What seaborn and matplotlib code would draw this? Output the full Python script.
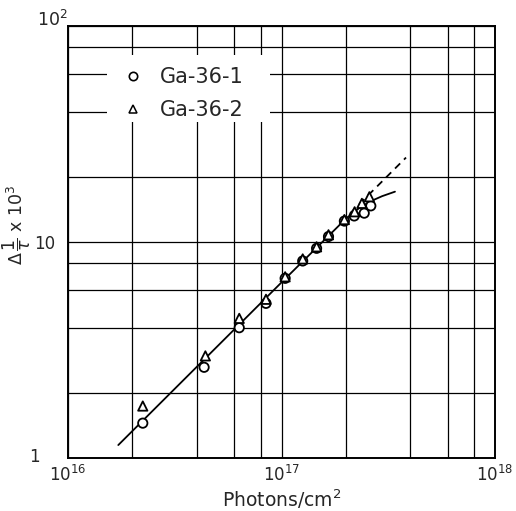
import numpy as np
import pandas as pd
import matplotlib
matplotlib.use("Agg")
import matplotlib.pyplot as plt
import seaborn as sns
from matplotlib.ticker import LogLocator, FixedLocator, NullFormatter
from matplotlib.lines import Line2D
from matplotlib.patches import Rectangle

# ---- data ----
photons_1 = [2.24e16, 4.34e16, 6.34e16, 8.46e16, 1.04e17, 1.257e17, 1.46e17,
             1.66e17, 1.97e17, 2.19e17, 2.44e17, 2.62e17]
rate_1 = [1.45, 2.63, 4.01, 5.20, 6.79, 8.17, 9.35, 10.6, 12.5, 13.2, 13.6, 14.7]

photons_2 = [2.24e16, 4.40e16, 6.34e16, 8.46e16, 1.04e17, 1.257e17, 1.46e17,
             1.66e17, 1.97e17, 2.20e17, 2.38e17, 2.58e17]
rate_2 = [1.74, 2.97, 4.43, 5.43, 6.9, 8.35, 9.5, 10.8, 12.7, 13.8, 15.1, 16.2]

fit_x = [1.72e16, 1.0e17, 2.0e17, 2.3e17, 2.6e17, 2.96e17, 3.4e17]
fit_y = [1.148, 6.5, 12.8, 14.3, 15.4, 16.3, 17.1]

ext_x = [2.1e17, 3.83e17]
ext_y = [13.6, 24.6]

series_names = ["Ga-36-1", "Ga-36-2"]
x_ticks = [1e16, 1e17, 1e18]
x_ticklabels = [r"$10^{16}$", r"$10^{17}$", r"$10^{18}$"]
y_ticks = [1, 10, 100]
y_ticklabels = ["", "10", ""]
y_bottom_label = "1"
y_top_label = r"$10^{2}$"

df = pd.concat([
    pd.DataFrame({"x": photons_1, "y": rate_1, "s": series_names[0]}),
    pd.DataFrame({"x": photons_2, "y": rate_2, "s": series_names[1]}),
])

sns.set_style("white")
plt.rcParams["font.family"] = ["DejaVu Sans"]
plt.rcParams["mathtext.fontset"] = "dejavusans"

fig = plt.figure(figsize=(5.16, 5.11), dpi=100)
ax = fig.add_axes([68/516, 1-458/511, (495-68)/516, (458-26)/511])
ax.set_xscale("log")
ax.set_yscale("log")
ax.set_xlim(1e16, 1e18)
ax.set_ylim(1, 100)

sns.lineplot(x=fit_x, y=fit_y, ax=ax, color="black", lw=1.3, zorder=3,
             legend=False, sort=False)
sns.lineplot(x=ext_x, y=ext_y, ax=ax, color="black", lw=1.3, zorder=3,
             legend=False, sort=False)
ax.lines[-1].set_linestyle((0, (4, 3)))

sns.scatterplot(data=df, x="x", y="y", hue="s", style="s",
                markers={series_names[0]: "o", series_names[1]: "^"},
                palette={series_names[0]: "black", series_names[1]: "black"},
                ax=ax, s=45, linewidth=1.3, zorder=4, legend=False)
for coll in ax.collections:
    coll.set_facecolor("white")
    coll.set_edgecolor("black")

# grid at 2,4,6,8 and decades
ax.xaxis.set_major_locator(FixedLocator(x_ticks))
ax.yaxis.set_major_locator(FixedLocator(y_ticks))
ax.xaxis.set_minor_locator(LogLocator(base=10, subs=(2, 4, 6, 8)))
ax.yaxis.set_minor_locator(LogLocator(base=10, subs=(2, 4, 6, 8)))
ax.xaxis.set_minor_formatter(NullFormatter())
ax.yaxis.set_minor_formatter(NullFormatter())
ax.set_xticklabels(x_ticklabels, fontsize=12)
ax.set_yticklabels(y_ticklabels, fontsize=12)
ax.grid(True, which="both", color="black", lw=0.9, zorder=1)
ax.tick_params(axis="x", which="both", length=0, pad=5)
ax.tick_params(axis="y", which="both", length=0, pad=9)
for sp in ax.spines.values():
    sp.set_color("black")
    sp.set_linewidth(1.4)

ax.annotate(y_top_label, xy=(0, 1), xycoords="axes fraction",
            xytext=(0, 4), textcoords="offset points",
            ha="right", va="center", fontsize=12.5)
ax.annotate(y_bottom_label, xy=(0, 0), xycoords="axes fraction",
            xytext=(-20, 1), textcoords="offset points",
            ha="right", va="center", fontsize=12)

ax.set_xlabel("Photons/cm$^2$", fontsize=13.5, labelpad=2)
ax.set_ylabel(r"$\Delta\,\dfrac{1}{\tau}$ x 10$^3$", fontsize=12.5)
ax.yaxis.set_label_coords(-0.082, 0.54)

# legend with white background box (no frame)
ax.add_patch(Rectangle((0.0913, 0.778), 0.382, 0.155, transform=ax.transAxes,
                       facecolor="white", edgecolor="none", zorder=2))
handles = [Line2D([], [], ls="none", marker="o", mfc="white", mec="black",
                  mew=1.2, ms=6),
           Line2D([], [], ls="none", marker="^", mfc="white", mec="black",
                  mew=1.1, ms=5.5)]
leg = ax.legend(handles, series_names, loc="upper left",
                bbox_to_anchor=(0.128, 0.905), frameon=False, fontsize=15,
                handlelength=1.0, handletextpad=0.8, labelspacing=0.62,
                borderpad=0, borderaxespad=0)
leg.set_zorder(5)

fig.savefig("out.png", dpi=100)
